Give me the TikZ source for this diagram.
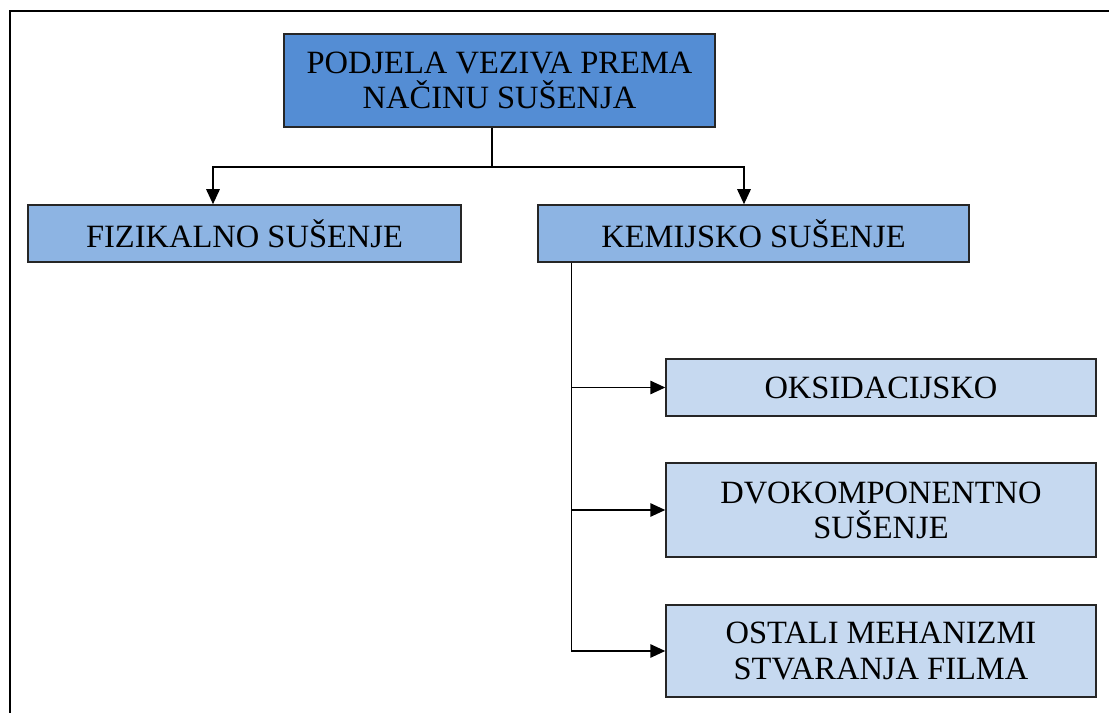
\documentclass[tikz,border=0pt]{standalone}
\usepackage{fontspec}
\setmainfont{Liberation Serif}
\usetikzlibrary{calc, arrows.meta}

\definecolor{topblue}{RGB}{84,141,212}
\definecolor{midblue}{RGB}{141,180,227}
\definecolor{lightblue}{RGB}{198,217,240}

\tikzset{
  box/.style={draw=black!85, line width=0.9pt, inner sep=0pt, align=center,
    font=\fontsize{18.5}{20}\selectfont},
  arr/.style={-{Triangle[length=0.3cm,width=0.27cm]}},
}

\begin{document}
\begin{tikzpicture}[x=0.02cm, y=-0.02cm, line width=0.85pt]
      \useasboundingbox (0,0) rectangle (1109,713);
      % frame
      \draw[line width=1.7pt] (10,713) -- (10,11) -- (1109,11);
      % boxes
      \node[box, fill=topblue, minimum width=8.62cm, minimum height=1.86cm] (top) at (499.5,80.5) {PODJELA VEZIVA PREMA\\NAČINU SUŠENJA};
      \node[box, fill=midblue, minimum width=8.66cm, minimum height=1.14cm] (fiz) at (244.5,233.5) {FIZIKALNO SUŠENJE};
      \node[box, fill=midblue, minimum width=8.62cm, minimum height=1.14cm] (kem) at (753.5,233.5) {KEMIJSKO SUŠENJE};
      \node[box, fill=lightblue, minimum width=8.6cm, minimum height=1.14cm] (oks) at (881,387.5) {OKSIDACIJSKO};
      \node[box, fill=lightblue, minimum width=8.6cm, minimum height=1.88cm] (dvo) at (881,510) {DVOKOMPONENTNO\\SUŠENJE};
      \node[box, fill=lightblue, minimum width=8.6cm, minimum height=1.84cm] (ost) at (881,651) {OSTALI MEHANIZMI\\STVARANJA FILMA};
      % first level
      \coordinate (hub) at (492,167);
      \draw (top.south -| hub) -- (hub);
      \draw[arr] (hub) -| ($(fiz.north)+(-31.5,0)$);
      \draw[arr] (hub) -| ($(kem.north)+(-9.5,0)$);
      % second level
      \coordinate (trunk) at ($(kem.south west)+(34,0)$);
      \draw[arr] (trunk) |- (oks.west);
      \draw[arr] (trunk) |- (dvo.west);
      \draw[arr] (trunk) |- (ost.west);
    \end{tikzpicture}
\end{document}
